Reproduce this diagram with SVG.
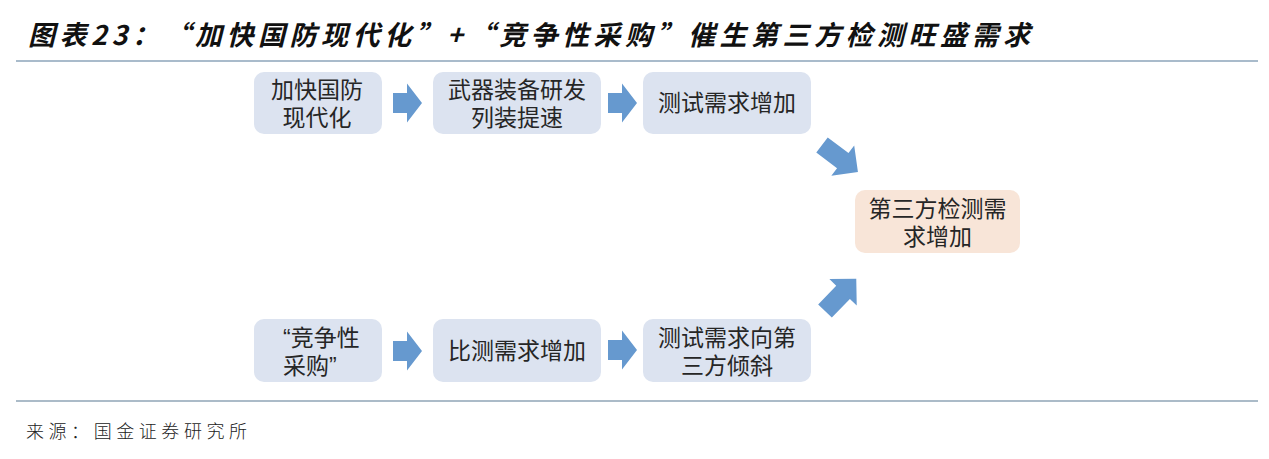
<svg xmlns="http://www.w3.org/2000/svg" width="1269" height="459" viewBox="0 0 1269 459">
<style>
.box{fill:#DCE3F0;}
.obox{fill:#F8E5D8;}
.t{font-family:"Noto Sans CJK SC","Noto Sans",sans-serif;font-size:23px;fill:#262626;text-anchor:middle;}
.ts{font-family:"Noto Sans CJK SC","Noto Sans",sans-serif;font-size:23px;fill:#262626;text-anchor:start;}
.q{font-family:"Liberation Sans",sans-serif;}
.arr{fill:#6699CF;}
</style>
<defs>
<path id="ha" d="M0,-10 H14 V-19.5 L29,0 L14,19.5 V10 H0 Z"/>
<path id="da" d="M0,-9.5 H26 V-19 L45,0 L26,19 V9.5 H0 Z"/>
</defs>
<rect width="1269" height="459" fill="#FFFFFF"/>
<g id="title">
<text x="28" y="45" font-family="'Noto Sans CJK SC',sans-serif" font-size="27" font-style="italic" font-weight="700" fill="#111111" textLength="1002" lengthAdjust="spacing">图表23：“加快国防现代化”+“竞争性采购”催生第三方检测旺盛需求</text>
<line x1="16" y1="61" x2="1258" y2="61" stroke="#A9BBCB" stroke-width="2.2"/>
</g>
<g id="node-jiakuai">
<rect class="box" x="254" y="72" width="128" height="62" rx="10"/>
<text class="t" x="317" y="98">加快国防</text>
<text class="t" x="317" y="126">现代化</text>
</g>
<g id="node-wuqi">
<rect class="box" x="433" y="72" width="168" height="62" rx="10"/>
<text class="t" x="517" y="98">武器装备研发</text>
<text class="t" x="517" y="126">列装提速</text>
</g>
<g id="node-ceshi">
<rect class="box" x="643" y="72" width="168" height="62" rx="10"/>
<text class="t" x="727" y="111">测试需求增加</text>
</g>
<g id="node-disanfang">
<rect class="obox" x="855" y="190" width="165" height="63" rx="10"/>
<text class="t" x="937.5" y="217">第三方检测需</text>
<text class="t" x="937.5" y="245">求增加</text>
</g>
<g id="node-jingzheng">
<rect class="box" x="254" y="319" width="128" height="63" rx="10"/>
<text class="ts" x="283" y="346"><tspan class="q">“</tspan>竞争性</text>
<text class="ts" x="283" y="374">采购<tspan class="q">”</tspan></text>
</g>
<g id="node-bice">
<rect class="box" x="433" y="319" width="168" height="63" rx="10"/>
<text class="t" x="517" y="359">比测需求增加</text>
</g>
<g id="node-qingxie">
<rect class="box" x="643" y="319" width="168" height="63" rx="10"/>
<text class="t" x="727" y="346">测试需求向第</text>
<text class="t" x="727" y="374">三方倾斜</text>
</g>
<g id="connectors">
<use href="#ha" class="arr" transform="translate(393,103)"/>
<use href="#ha" class="arr" transform="translate(608,103)"/>
<use href="#ha" class="arr" transform="translate(393,351)"/>
<use href="#ha" class="arr" transform="translate(608,350)"/>
<use href="#da" class="arr" transform="translate(822,145) rotate(37)"/>
<use href="#da" class="arr" transform="translate(825,311) rotate(-46)"/>
</g>
<g id="footer">
<line x1="16" y1="401" x2="1258" y2="401" stroke="#8FA4B6" stroke-width="1.5"/>
<text x="26" y="438" font-family="'Noto Sans CJK SC',sans-serif" font-size="18" font-weight="300" fill="#222222" textLength="221" lengthAdjust="spacing">来源：国金证券研究所</text>
</g>
</svg>
